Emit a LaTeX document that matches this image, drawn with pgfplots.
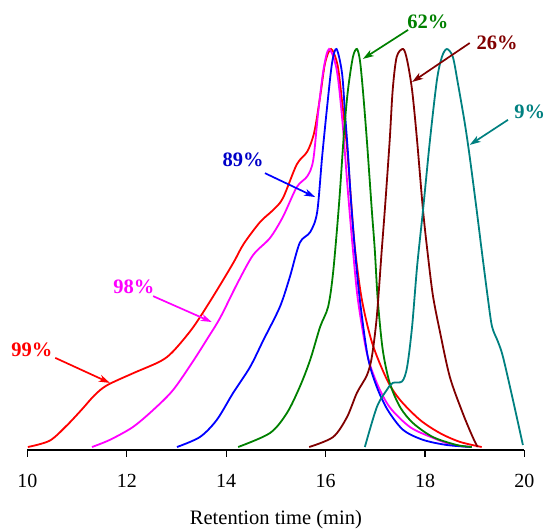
\documentclass[border=0pt]{standalone}
\usepackage{pgfplots}
\pgfplotsset{compat=1.18}
\usepackage{fontspec}
\setmainfont{Liberation Serif}
\usetikzlibrary{arrows.meta}
\definecolor{cgreen}{RGB}{0,128,0}
\definecolor{cmaroon}{RGB}{128,0,0}
\definecolor{cteal}{RGB}{0,128,128}
\definecolor{cblue}{RGB}{0,0,255}
\definecolor{cbluetext}{RGB}{0,0,200}
\definecolor{cmag}{RGB}{255,0,255}
\definecolor{cred}{RGB}{255,0,0}
\begin{document}
\begin{tikzpicture}
\useasboundingbox (-27.4pt,-79pt) rectangle (519.6pt,450pt);
\begin{axis}[
  scale only axis, width=497pt, height=450pt,
  xmin=10, xmax=20, ymin=-0.0075, ymax=1.1231,
  axis x line=bottom, axis y line=none,
  axis line style={black, line width=1.3pt, -},
  xtick={10,12,14,16,18,20}, ytick=\empty,
  tick align=outside, major tick length=7pt,
  tick style={black, line width=1.2pt},
  /pgf/number format/assume math mode=true,
  xticklabel style={font=\fontsize{20}{24}\selectfont, yshift=-14pt},
  xlabel={Retention time (min)},
  xlabel style={font=\fontsize{20.5}{24}\selectfont, yshift=-15pt},
  clip=false,
  every axis plot/.append style={smooth, line width=1.8pt, no marks},
]
\addplot[cred] table {
10.01 0
10.45 0.016
10.80 0.055
11.10 0.095
11.35 0.13
11.60 0.155
12.12 0.185
12.67 0.215
12.93 0.24
13.33 0.30
13.73 0.377
14.14 0.462
14.35 0.51
14.68 0.565
14.94 0.595
15.14 0.625
15.42 0.71
15.63 0.742
15.77 0.79
15.89 0.88
15.99 0.965
16.11 1.0
16.24 0.96
16.33 0.87
16.43 0.754
16.50 0.64
16.59 0.50
16.73 0.37
16.94 0.26
17.24 0.168
17.50 0.118
17.90 0.068
18.30 0.035
18.70 0.013
19.14 0
};
\addplot[cmag] table {
11.30 0
11.66 0.018
12.12 0.05
12.53 0.093
12.93 0.143
13.33 0.215
13.61 0.27
13.88 0.325
14.22 0.41
14.54 0.482
14.88 0.525
15.14 0.578
15.42 0.653
15.63 0.68
15.75 0.72
15.85 0.84
15.96 0.95
16.07 1.0
16.22 0.95
16.33 0.83
16.45 0.64
16.55 0.495
16.65 0.37
16.83 0.236
17.03 0.161
17.29 0.10
17.70 0.05
18.16 0.023
18.56 0.005
18.94 0
};
\addplot[cblue] table {
13.01 0
13.47 0.025
13.81 0.068
14.14 0.136
14.48 0.201
14.75 0.269
15.08 0.352
15.28 0.427
15.48 0.513
15.69 0.54
15.83 0.59
15.93 0.729
16.03 0.854
16.13 0.965
16.22 1.0
16.33 0.94
16.39 0.839
16.45 0.739
16.51 0.62
16.59 0.495
16.69 0.369
16.85 0.226
17.03 0.151
17.25 0.093
17.56 0.043
17.96 0.018
18.44 0.005
18.94 0
};
\addplot[cgreen] table {
14.24 0
14.88 0.035
15.22 0.085
15.48 0.151
15.69 0.219
15.89 0.302
16.05 0.352
16.15 0.437
16.27 0.61
16.37 0.789
16.45 0.897
16.55 0.98
16.63 1.0
16.69 0.972
16.75 0.897
16.83 0.771
16.93 0.595
16.99 0.495
17.05 0.369
17.15 0.244
17.29 0.161
17.50 0.10
17.76 0.06
18.16 0.025
18.64 0.005
18.94 0
};
\addplot[cmaroon] table {
15.67 0
16.15 0.025
16.43 0.075
16.63 0.136
16.83 0.18
16.93 0.226
17.03 0.327
17.13 0.495
17.20 0.61
17.29 0.771
17.35 0.897
17.43 0.98
17.56 1.0
17.64 0.972
17.74 0.897
17.84 0.771
17.96 0.595
18.06 0.48
18.16 0.38
18.30 0.29
18.50 0.176
18.76 0.085
18.96 0.025
19.06 0
};
\addplot[cteal] table {
16.79 0
17.03 0.10
17.23 0.143
17.35 0.161
17.54 0.165
17.64 0.201
17.74 0.302
17.84 0.452
17.96 0.595
18.10 0.771
18.24 0.922
18.34 0.98
18.44 1.0
18.56 0.98
18.66 0.915
18.80 0.814
18.90 0.729
19.04 0.595
19.14 0.495
19.27 0.369
19.35 0.302
19.47 0.264
19.57 0.226
19.77 0.118
19.97 0.005
};
\tikzset{lab/.style={font=\fontsize{20.5}{24}\selectfont\bfseries},
  arr/.style={line width=1.7pt, -{Stealth[length=11pt,width=7pt,inset=3pt]}}}
\node[lab, cred] at (axis cs:10.09,0.244) {99\%};
\draw[arr, cred] (axis cs:10.56,0.224) -- (axis cs:11.66,0.161);
\node[lab, cmag] at (axis cs:12.14,0.402) {98\%};
\draw[arr, cmag] (axis cs:12.53,0.379) -- (axis cs:13.71,0.314);
\node[lab, cbluetext] at (axis cs:14.34,0.721) {89\%};
\draw[arr, cblue] (axis cs:14.78,0.688) -- (axis cs:15.79,0.628);
\node[lab, cgreen] at (axis cs:18.06,1.068) {62\%};
\draw[arr, cgreen] (axis cs:17.66,1.048) -- (axis cs:16.75,0.975);
\node[lab, cmaroon] at (axis cs:19.45,1.015) {26\%};
\draw[arr, cmaroon] (axis cs:18.90,1.015) -- (axis cs:17.74,0.917);
\node[lab, cteal] at (axis cs:20.11,0.842) {9\%};
\draw[arr, cteal] (axis cs:19.67,0.822) -- (axis cs:18.90,0.759);
\end{axis}
\end{tikzpicture}
\end{document}
